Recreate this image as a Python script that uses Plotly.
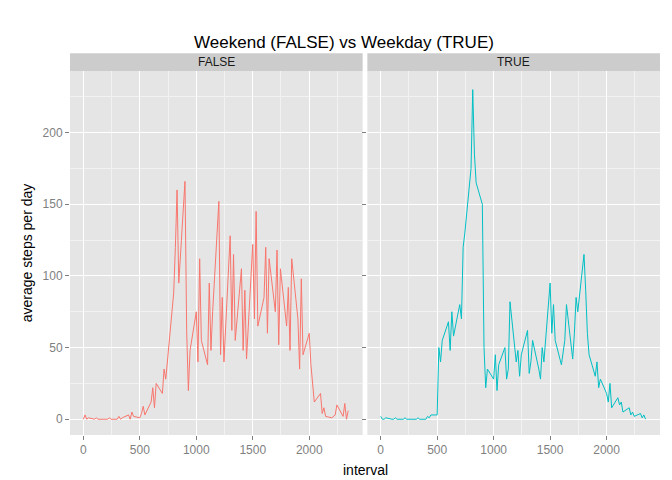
import plotly.graph_objects as go
from plotly.subplots import make_subplots

# interval codes (HHMM) every 15 minutes
intervals = [h * 100 + m for h in range(24) for m in (0, 15, 30, 45)]

weekend_steps = [
    0, 3, 0, 1, 0, 1, 0, 0, 0, 0, 1, 0, 0, 2, 0, 1,
    3, 0, 5, 2, 1, 4, 9, 3, 12, 22, 8, 25, 18, 35, 28, 42,
    88, 120, 160, 95, 166, 62, 20, 48, 75, 40, 112, 55, 38, 95, 48, 75,
    152, 45, 85, 40, 128, 62, 115, 55, 105, 48, 90, 42, 122, 70, 145, 65,
    85, 120, 60, 112, 75, 118, 52, 105, 65, 92, 48, 112, 70, 35, 98, 45,
    60, 38, 22, 12, 18, 4, 8, 2, 1, 2, 3, 10, 2, 11, 0, 6,
]
weekday_steps = [
    2, 0, 0, 1, 0, 0, 1, 0, 0, 1, 0, 0, 0, 0, 1, 0,
    0, 2, 1, 3, 3, 50, 40, 55, 68, 48, 75, 58, 80, 70, 120, 130,
    175, 230, 185, 165, 150, 50, 22, 35, 28, 45, 20, 38, 50, 28, 35, 82,
    40, 48, 30, 45, 62, 32, 40, 55, 35, 28, 50, 40, 95, 60, 80, 55,
    38, 45, 55, 80, 42, 60, 85, 75, 115, 90, 60, 45, 30, 40, 22, 28,
    18, 12, 25, 8, 15, 10, 12, 5, 8, 3, 5, 2, 4, 1, 3, 0,
]

fig = make_subplots(rows=1, cols=2, shared_yaxes=True, horizontal_spacing=0.008,
                    subplot_titles=("FALSE", "TRUE"))
fig.add_trace(go.Scatter(x=intervals, y=weekend_steps, mode="lines",
                         line=dict(color="#F8766D", width=1)), row=1, col=1)
fig.add_trace(go.Scatter(x=intervals, y=weekday_steps, mode="lines",
                         line=dict(color="#00BFC4", width=1)), row=1, col=2)

ax = dict(range=[-118, 2473], tickvals=[0, 500, 1000, 1500, 2000],
          gridcolor="white", showline=False, zeroline=False, ticks="outside",
          ticklen=4, tickcolor="#7F7F7F", tickfont=dict(color="#7F7F7F", size=12),
          minor=dict(tickvals=[250, 750, 1250, 1750, 2250], gridcolor="#F2F2F2", showgrid=True))
fig.update_xaxes(**ax)
fig.update_yaxes(range=[-11, 243], tickvals=[0, 50, 100, 150, 200], gridcolor="white",
                 zeroline=False, ticks="outside", ticklen=4, tickcolor="#7F7F7F",
                 tickfont=dict(color="#7F7F7F", size=12),
                 minor=dict(tickvals=[25, 75, 125, 175, 225], gridcolor="#F2F2F2", showgrid=True))
fig.update_yaxes(title_text="average steps per day", title_font=dict(size=14),
                 title_standoff=6, row=1, col=1)

# strips
for x0, x1 in [(0, 0.496), (0.504, 1)]:
    fig.add_shape(type="rect", xref="paper", yref="paper", x0=x0, x1=x1, y0=1, y1=1.049,
                  fillcolor="#CCCCCC", line_width=0)
for a in fig.layout.annotations:
    a.update(y=1.0245, yanchor="middle", font=dict(size=12, color="#1A1A1A"))
fig.add_annotation(text="interval", xref="paper", yref="paper", x=0.5, y=-0.096,
                   yanchor="middle", showarrow=False, font=dict(size=14))

fig.update_layout(
    width=672, height=480, showlegend=False,
    title=dict(text="Weekend (FALSE) vs Weekday (TRUE)", x=0.5, xanchor="center",
               y=0.93, yanchor="middle", font=dict(size=17, color="black")),
    font=dict(family="Liberation Sans, Arial", color="black"),
    plot_bgcolor="#E5E5E5", paper_bgcolor="white",
    margin=dict(l=62, r=20, t=63, b=53, autoexpand=False),
)
fig.write_html("out.html")
